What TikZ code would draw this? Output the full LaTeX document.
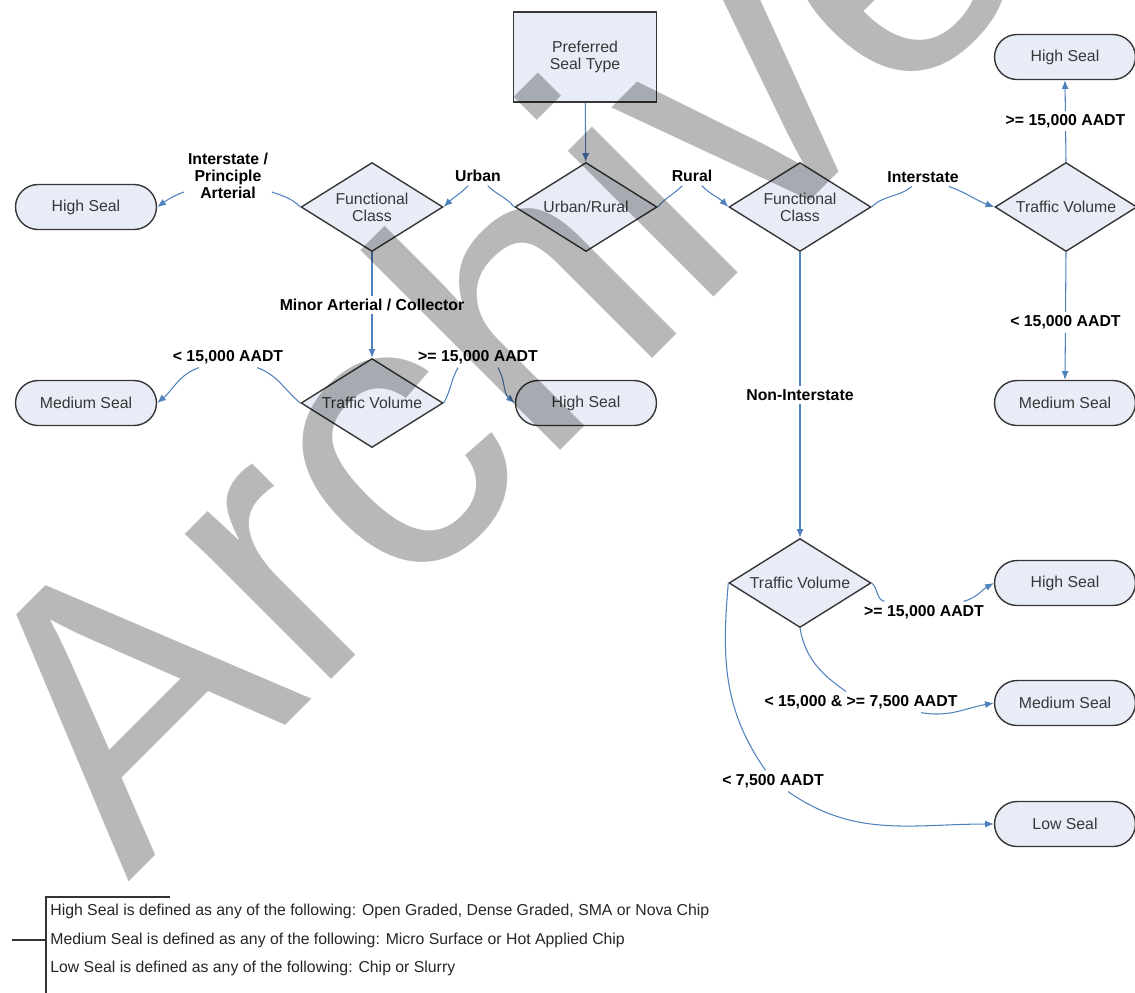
\documentclass[tikz,border=0pt]{standalone}
\usepackage{fontspec}
\setmainfont{Liberation Sans}
\usetikzlibrary{positioning,arrows.meta,shapes.geometric}
\definecolor{linkblue}{RGB}{79, 129, 189}
\definecolor{boxfill}{RGB}{231, 236, 246}
\definecolor{boxline}{RGB}{55, 55, 55}
\definecolor{nodetext}{RGB}{55, 55, 55}
\definecolor{markgrey}{RGB}{184, 184, 184}

\begin{document}
\begin{tikzpicture}[
    x=0.02cm, y=-0.02cm,
    font=\fontsize{9}{9.6}\selectfont,
    >={Latex[length=5pt,width=4pt]},
    topbox/.style={
        draw=boxline,
        fill=boxfill,
        line width=0.8pt,
        minimum width=2.86cm,
        minimum height=1.8cm,
        align=center,
        text=nodetext
    },
    decision/.style={
        diamond,
        aspect=1.6,
        draw=boxline,
        fill=boxfill,
        line width=0.8pt,
        minimum width=2.84cm,
        minimum height=1.78cm,
        inner sep=0pt,
        align=center,
        text=nodetext
    },
    seal/.style={
        draw=boxline,
        fill=boxfill,
        line width=0.8pt,
        rounded corners=0.45cm,
        minimum width=2.82cm,
        minimum height=0.9cm,
        text=nodetext
    },
    cond/.style={
        font=\fontsize{9}{9.6}\selectfont\bfseries,
        align=center,
        inner sep=2pt
    },
    legend/.style={
        anchor=west,
        inner sep=0pt,
        text=black!85
    },
    stamp/.style={
        anchor=base west,
        inner sep=0pt,
        rotate=45,
        text=markgrey,
        font=\fontsize{222}{230}\selectfont
    },
    link/.style={
        draw=linkblue,
        line width=0.6pt
    },
    arrow/.style={
        link,
        ->
    },
    legline/.style={
        draw=black!80,
        line width=0.6pt
    }
]
    \useasboundingbox (0,0) rectangle (1135,992);

    % 1. Start box and urban/rural split
    \node[topbox] (pst) at (585,57) {Preferred\\Seal Type};
    \node[decision] (ur) at (586,207) {Urban/Rural};

    % 2. Urban side
    \node[decision] (fcU) at (372,207) {Functional\\Class};
    \node[seal] (hsL) at (86,207) {High Seal};
    \node[decision] (tvL) at (372,403) {Traffic Volume};
    \node[seal] (msL) at (86,403) {Medium Seal};
    \node[seal] (hsM) at (586,403) {High Seal};

    % 3. Rural side
    \node[decision] (fcR) at (800,207) {Functional\\Class};
    \node[decision] (tvR) at (1066,207) {Traffic Volume};
    \node[seal] (hsR) at (1065,57) {High Seal};
    \node[seal] (msR) at (1065,403) {Medium Seal};
    \node[decision] (tvB) at (800,583) {Traffic Volume};
    \node[seal] (hsB) at (1065,583) {High Seal};
    \node[seal] (msB) at (1065,703) {Medium Seal};
    \node[seal] (lsB) at (1065,824) {Low Seal};

    % Branch labels on the curved links
    \node[cond] (lUrban) at (478,176) {Urban};
    \node[cond] (lRural) at (692,176) {Rural};
    \node[cond] (lIPA) at (228,176) {Interstate /\\Principle\\Arterial};
    \node[cond] (lInter) at (923,177) {Interstate};
    \node[cond] (lLtL) at (228,357) {< 15,000 AADT};
    \node[cond] (lGeM) at (478,357) {>= 15,000 AADT};
    \node[cond] (lGeB) at (924,612) {>= 15,000 AADT};
    \node[cond] (lMid) at (861,702) {< 15,000 \& >= 7,500 AADT};
    \node[cond] (lLt75) at (773,781) {< 7,500 AADT};

    % Connections
    \draw[arrow] (pst) -- (ur);
    \draw[link] (ur.west) to[out=130,in=-45] (lUrban);
    \draw[arrow] (lUrban) to[out=-135,in=45] (fcU.east);
    \draw[link] (ur.east) to[out=50,in=-135] (lRural);
    \draw[arrow] (lRural) to[out=-45,in=135] (fcR.west);

    % Urban functional class
    \draw[link] (fcU.west) to[out=135,in=-20] (lIPA);
    \draw[arrow] (lIPA) to[out=200,in=35] (hsL.east);
    \draw[arrow] (fcU.south) -- node[cond, fill=white] {Minor Arterial / Collector} (tvL.north);
    \draw[link] (tvL.west) to[out=140,in=-20] (lLtL);
    \draw[arrow] (lLtL) to[out=-160,in=40] (msL.east);
    \draw[link] (tvL.east) to[out=60,in=-120] (lGeM.-152);
    \draw[arrow] (lGeM.-28) to[out=-60,in=140] (hsM.west);

    % Rural functional class
    \draw[link] (fcR.east) to[out=45,in=-140] (lInter);
    \draw[arrow] (lInter) to[out=-20,in=160] (tvR.west);
    \draw[arrow] (tvR.north) -- node[cond, fill=white] {>= 15,000 AADT} (hsR.south);
    \draw[arrow] (tvR.south) -- node[cond, fill=white, pos=.55] {< 15,000 AADT} (msR.north);
    \draw[arrow] (fcR.south) -- node[cond, fill=white] {Non-Interstate} (tvB.north);

    % Non-interstate traffic volume
    \draw[link] (tvB.east) to[out=-40,in=165] (lGeB);
    \draw[arrow] (lGeB) to[out=15,in=-150] (hsB.west);
    \draw[link] (tvB.south) to[out=-80,in=145] (lMid);
    \draw[arrow] (lMid) to[out=-10,in=190] (msB.west);
    \draw[link] (tvB.west) to[out=-95,in=125] (lLt75);
    \draw[arrow] (lLt75) to[out=-35,in=180] (lsB.west);

    % 4. Legend
    \draw[legline] (170,897) -- (46,897) -- (46,995);
    \draw[legline] (12,940) -- (46,940);
    \node[legend] (defhigh) at (50,911) {High Seal is defined as any of the following: Open Graded, Dense Graded, SMA or Nova Chip};
    \node[legend] (defmed) at (50,940) {Medium Seal is defined as any of the following: Micro Surface or Hot Applied Chip};
    \node[legend] (deflow) at (50,968) {Low Seal is defined as any of the following: Chip or Slurry};

    % Watermark
    \begin{scope}[blend mode=multiply]
        \node[stamp] (wm) at (128,883) {Archive};
    \end{scope}

\end{tikzpicture}
\end{document}
